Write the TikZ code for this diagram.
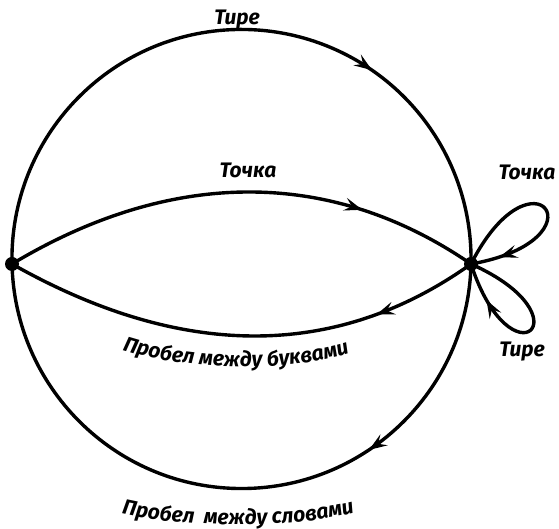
\documentclass[tikz,border=0pt]{standalone}
\usepackage{fontspec}
\setmainfont{Fira Sans}
\usetikzlibrary{arrows.meta,decorations.markings,decorations.text}
\begin{document}
\begin{tikzpicture}[x=1pt,y=1pt,
  edge/.style={line width=3.4pt},
  dot/.style={circle,fill,inner sep=0pt,minimum size=14pt},
  lbl/.style={font=\fontsize{21}{23}\selectfont\bfseries\itshape},
  arr/.style={postaction={decorate},decoration={markings,mark=at position #1 with {\arrow{Stealth[length=18pt,width=13pt,inset=7pt]}}}}
]
\useasboundingbox (0,0) rectangle (559,529);
\node[dot] (L) at (12,265) {};
\node[dot] (R) at (471,265) {};
% outer circle
\draw[edge,arr=0.69] (L.center) arc[start angle=181.25,end angle=-1.25,radius=229.55];
\draw[edge,arr=0.31] (R.center) arc[start angle=-1.25,end angle=-178.75,radius=229.55];
% inner lens
\draw[edge,arr=0.75] (L.center) .. controls (170,360) and (330,362) .. (R.center);
\draw[edge,arr=0.22] (R.center) .. controls (335,168) and (180,170) .. (L.center);
% loops
\draw[edge,arr=0.86] (R.center) .. controls +(63:138) and +(10:138) .. (R.center);
\draw[edge,arr=0.80] (R.center) .. controls +(-24:130) and +(-72:130) .. (R.center);
% labels
\node[lbl] (t1) at (237,509) {Тире};
\node[lbl] (t2) at (248,359) {Точка};
\node[lbl] (t3) at (527,357) {Точка};
\node[lbl] (t4) at (522,177) {Тире};
\path[decorate,decoration={text along path,text align=center,
  text={|\fontsize{21}{23}\selectfont\bfseries\itshape|Пробел между буквами}}]
  (104,186) .. controls (170,157) and (300,153) .. (368,183);
\path[decorate,decoration={text along path,text align=center,
  text={|\fontsize{21}{23}\selectfont\bfseries\itshape|Пробел\ \ между словами}}]
  (102,21) .. controls (160,0) and (310,-2) .. (374,22);
\end{tikzpicture}
\end{document}
